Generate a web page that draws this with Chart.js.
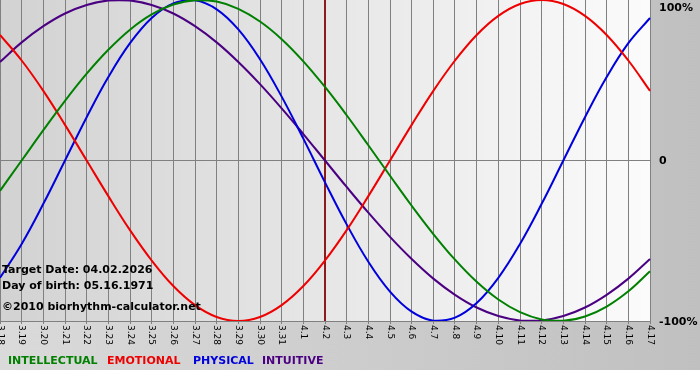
<!DOCTYPE html>
<html>
<head>
<meta charset="utf-8">
<script src="https://cdn.jsdelivr.net/npm/chart.js@4/dist/chart.umd.min.js"></script>
<style>
html, body { margin: 0; padding: 0; background: #fff; }
</style>
</head>
<body>
<canvas id="chart-biorhythm" width="700" height="380"></canvas>
<script>
// dias do grafico (eixo x)
const days = ['3.18','3.19','3.20','3.21','3.22','3.23','3.24','3.25','3.26','3.27','3.28','3.29','3.30','3.31',
    '4.1','4.2','4.3','4.4','4.5','4.6','4.7','4.8','4.9','4.10','4.11','4.12','4.13','4.14','4.15','4.16','4.17'];

// valores em %
const intellectual = [-18.9,0,18.9,37.2,54.1,69.0,81.5,91.0,97.2,99.9,99.0,94.5,86.6,75.6,61.8,45.8,28.2,9.5,-9.5,-28.2,-45.8,-61.8,-75.6,-86.6,-94.5,-99.0,-99.9,-97.2,-91.0,-81.5,-69.0];
const emotional = [78.2,62.3,43.4,22.2,0,-22.2,-43.4,-62.3,-78.2,-90.1,-97.5,-100,-97.5,-90.1,-78.2,-62.3,-43.4,-22.2,0,22.2,43.4,62.3,78.2,90.1,97.5,100,97.5,90.1,78.2,62.3,43.4];
const physical = [-73.1,-52.0,-27.0,0,27.0,52.0,73.1,88.8,97.9,99.8,94.2,81.7,63.1,39.8,13.6,-13.6,-39.8,-63.1,-81.7,-94.2,-99.8,-97.9,-88.8,-73.1,-52.0,-27.0,0,27.0,52.0,73.1,88.8];
const intuitive = [61.4,73.6,83.7,91.6,96.9,99.7,99.7,96.9,91.6,83.7,73.6,61.4,47.6,32.5,16.5,0,-16.5,-32.5,-47.6,-61.4,-73.6,-83.7,-91.6,-96.9,-99.7,-99.7,-96.9,-91.6,-83.7,-73.6,-61.4];

const yTicks = [100, 0, -100];
const yTickLabels = ['100%', '0', '-100%'];
const targetDay = '4.2';
const infoLines = ['Target Date: 04.02.2026', 'Day of birth: 05.16.1971', '\u00A92010 biorhythm-calculator.net'];

const series = [
    { label: 'INTELLECTUAL', data: intellectual, color: '#008000' },
    { label: 'EMOTIONAL', data: emotional, color: '#ee0000' },
    { label: 'PHYSICAL', data: physical, color: '#0000dd' },
    { label: 'INTUITIVE', data: intuitive, color: '#4b0082' }
];
const legendX = [8, 107, 193, 262];

const FONT = '"DejaVu Sans", Verdana, sans-serif';

const bioPlugin = {
    id: 'bio',
    beforeDraw(chart) {
        const { ctx, chartArea: a, width, height } = chart;
        ctx.save();
        // fundo geral
        let g = ctx.createLinearGradient(0, 0, width, 0);
        g.addColorStop(0, '#dadada');
        g.addColorStop(1, '#c0c0c0');
        ctx.fillStyle = g;
        ctx.fillRect(0, 0, width, 370);
        ctx.fillStyle = '#ffffff';
        ctx.fillRect(0, 370, width, height - 370);
        // fundo da area do grafico
        g = ctx.createLinearGradient(a.left, 0, a.right, 0);
        g.addColorStop(0, '#d2d2d2');
        g.addColorStop(1, '#fbfbfb');
        ctx.fillStyle = g;
        ctx.fillRect(a.left, a.top, a.right - a.left, a.bottom - a.top);
        ctx.restore();
    },
    beforeDatasetsDraw(chart) {
        const { ctx, chartArea: a, scales } = chart;
        const x = scales.x.getPixelForValue(days.indexOf(targetDay));
        ctx.save();
        ctx.strokeStyle = '#8b1c1c';
        ctx.lineWidth = 2;
        ctx.beginPath();
        ctx.moveTo(x, a.top);
        ctx.lineTo(x, a.bottom);
        ctx.stroke();
        ctx.restore();
    },
    afterDraw(chart) {
        const { ctx, chartArea: a, scales } = chart;
        ctx.save();
        // rotulos do eixo x (girados)
        ctx.fillStyle = '#000';
        ctx.font = '9px ' + FONT;
        ctx.textAlign = 'left';
        ctx.textBaseline = 'middle';
        days.forEach((d, i) => {
            const x = scales.x.getPixelForValue(i);
            ctx.save();
            ctx.translate(x, a.bottom + 4);
            ctx.rotate(Math.PI / 2);
            ctx.fillText(d, 0, 0);
            ctx.restore();
        });
        // rotulos do eixo y
        ctx.font = 'bold 11px ' + FONT;
        yTicks.forEach((v, i) => {
            let y = scales.y.getPixelForValue(v);
            if (y < a.top + 7) y = a.top + 7;
            ctx.fillText(yTickLabels[i], a.right + 9, y + 1);
        });
        // textos informativos
        infoLines.forEach((t, i) => {
            ctx.fillText(t, 2, [270, 286, 307][i]);
        });
        // legenda
        series.forEach((s, i) => {
            ctx.fillStyle = s.color;
            ctx.fillText(s.label, legendX[i], 361);
        });
        ctx.restore();
    }
};

new Chart(document.getElementById('chart-biorhythm'), {
    type: 'line',
    data: {
        labels: days,
        datasets: series.map(s => ({
            label: s.label,
            data: s.data,
            borderColor: s.color,
            borderWidth: 2,
            pointRadius: 0,
            tension: 0.4,
            fill: false
        }))
    },
    options: {
        responsive: false,
        animation: false,
        layout: { padding: 0 },
        plugins: {
            legend: { display: false },
            tooltip: { enabled: false }
        },
        scales: {
            x: {
                ticks: { display: false },
                grid: { color: '#808080', lineWidth: 1, drawTicks: true, tickLength: 3 },
                border: { display: false },
                afterFit(s) { s.height = 59; }
            },
            y: {
                position: 'right',
                min: -100,
                max: 100,
                ticks: { display: false, stepSize: 100 },
                grid: {
                    color: c => (c.tick && c.tick.value === 100) ? 'rgba(0,0,0,0)' : '#808080',
                    drawTicks: false
                },
                border: { display: false },
                afterFit(s) { s.width = 50; }
            }
        }
    },
    plugins: [bioPlugin]
});
</script>
</body>
</html>
